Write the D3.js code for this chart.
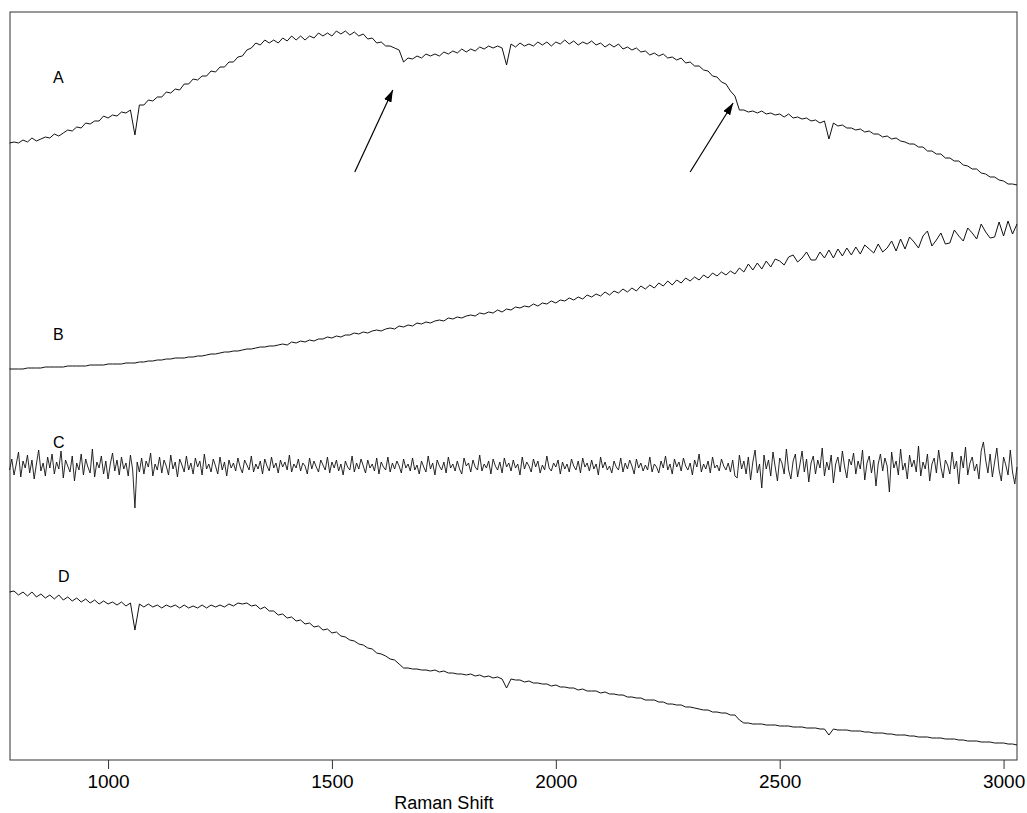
<!DOCTYPE html>
<head>
<style type="text/css">
    body {
      font-family: "Liberation Sans", Arial, sans-serif;
      margin: 0;
      background: #fff;
    }
</style>
</head>
<script src="https://d3js.org/d3.v7.min.js"></script>
<body>
    <svg width="1027" height="813"></svg>
    <script>
        // raman shift grid (cm-1), spectra sampled every 10 (C every 5)
        var shift10 = d3.range(780, 3031, 10),
            shift5 = d3.range(780, 3031, 5);

        var tickShifts = [1000, 1500, 2000, 2500, 3000];

        // intensities, arbitrary units
        var specA = [617,618,617,620,618,622,619,621,623,622,
            626,624,627,630,629,633,632,637,636,639,
            639,644,642,645,644,648,647,650,625,655,
            655,660,659,663,663,668,667,671,670,676,
            676,681,680,684,684,689,688,693,693,698,
            698,703,704,710,712,717,715,720,717,720,
            717,722,719,724,720,724,720,724,722,727,
            724,727,724,729,726,729,725,728,724,726,
            721,722,717,718,714,714,712,710,698,702,
            701,704,702,706,704,706,704,708,706,709,
            707,711,708,711,709,713,711,714,712,714,
            712,695,716,713,717,714,716,714,718,715,
            718,714,718,716,720,716,719,715,718,716,
            719,715,717,713,716,713,716,711,713,710,
            712,708,709,705,707,704,706,702,703,700,
            702,697,698,694,694,690,689,684,683,678,
            676,669,664,650,650,648,649,647,649,646,
            647,645,646,643,646,642,643,641,642,639,
            640,637,639,621,637,634,635,632,632,630,
            631,628,629,626,626,623,624,621,622,619,
            618,616,616,613,613,609,609,606,606,602,
            602,599,599,595,594,591,591,587,586,583,
            583,580,579,576,576,575];

        var specB = [391,391,391,391,392,392,392,392,393,393,
            393,393,393,394,394,394,394,394,395,395,
            395,395,396,396,396,396,397,397,397,398,
            398,399,399,400,400,401,401,402,402,402,
            403,403,404,404,405,406,406,407,408,408,
            409,409,410,411,411,412,413,413,414,414,
            415,416,415,418,417,419,418,420,419,421,
            421,423,422,424,423,425,425,427,426,428,
            427,429,430,429,431,432,431,434,433,435,
            434,437,436,438,437,439,440,439,442,441,
            443,442,444,445,444,447,446,448,447,450,
            448,451,450,453,452,454,453,456,454,457,
            456,459,457,460,459,462,460,463,461,465,
            463,466,464,468,465,469,467,471,468,472,
            469,474,471,475,472,477,474,479,475,480,
            477,482,479,483,480,485,482,487,484,488,
            485,489,486,492,488,496,490,497,491,499,
            493,501,499,495,503,505,498,502,508,500,
            500,508,502,510,502,511,504,512,505,513,
            506,515,511,507,516,508,512,519,509,521,
            511,523,518,512,524,529,514,520,527,516,
            517,530,524,519,532,527,521,536,528,522,
            523,538,524,539,526,536];

        var specC = [290,301,285,296,308,283,299,292,305,287,
            300,281,296,310,289,297,284,303,292,306,
            286,298,291,309,282,300,294,288,304,279,
            297,290,306,285,301,293,287,311,283,298,
            292,304,286,299,281,296,307,289,300,285,
            303,291,297,284,305,290,252,298,288,302,
            286,299,293,307,284,296,290,303,287,300,
            294,285,305,291,298,283,301,295,288,304,
            290,297,286,302,293,299,285,306,291,296,
            288,301,294,286,303,290,298,284,300,292,
            297,289,302,293,287,300,295,290,304,288,
            296,291,299,286,301,294,289,303,292,297,
            287,300,293,298,290,305,288,296,292,301,
            289,297,294,286,302,291,299,293,288,300,
            295,290,303,287,298,292,300,289,296,285,
            299,293,290,304,288,297,291,301,294,287,
            300,292,296,289,302,286,298,293,290,303,
            288,297,291,299,294,287,301,292,296,289,
            302,290,295,286,299,293,288,304,291,297,
            285,300,294,290,298,287,303,292,296,289,
            299,291,286,302,294,297,288,300,293,290,
            305,289,296,292,299,286,301,294,290,298,
            287,302,293,297,289,300,292,296,285,303,
            291,298,294,288,301,293,299,287,295,290,
            304,292,289,297,293,300,286,298,291,296,
            288,301,294,290,299,287,302,293,297,289,
            300,291,296,285,303,292,298,290,294,287,
            299,293,290,302,288,297,291,300,294,286,
            301,292,297,289,295,290,303,288,296,293,
            287,299,292,304,290,296,286,301,293,298,
            289,302,294,290,297,285,300,293,306,288,
            296,291,299,287,303,292,295,289,301,294,
            290,297,288,300,284,282,305,291,299,286,
            303,280,298,310,287,296,272,305,291,300,
            284,308,293,279,302,297,286,311,290,281,
            299,306,283,295,309,288,301,278,297,304,
            286,300,292,312,284,298,290,305,277,296,
            303,288,309,293,282,301,295,307,286,299,
            291,310,280,297,304,287,300,274,296,306,
            289,302,294,268,308,292,299,285,311,290,
            297,281,305,293,300,288,314,284,298,291,
            306,279,296,302,287,310,293,282,300,295,
            286,308,291,299,276,304,292,313,285,297,
            303,289,296,281,309,318,300,287,306,283,
            298,312,290,279,303,295,285,310,288,276,
            293];

        var specD = [168,169,165,168,164,168,163,166,162,165,
            161,165,160,163,159,162,158,161,157,160,
            156,159,156,158,155,158,154,157,130,156,
            153,156,153,155,152,155,153,155,152,155,
            152,154,152,155,152,155,153,155,153,156,
            154,157,156,157,154,155,151,153,149,149,
            145,146,142,143,139,140,136,137,133,134,
            130,131,127,128,124,123,120,119,116,115,
            112,111,107,106,104,101,100,96,92,92,
            91,91,90,90,89,90,88,89,87,87,
            86,86,85,86,84,85,83,84,82,83,
            81,72,81,80,80,78,79,77,77,76,
            76,74,75,73,73,72,72,70,71,69,
            69,69,67,68,66,66,65,65,63,63,
            62,62,60,60,60,58,58,56,56,55,
            55,53,53,52,51,50,50,48,48,47,
            47,45,45,40,37,37,36,36,36,35,
            35,35,34,34,34,33,33,33,32,32,
            32,31,31,25,31,30,30,30,29,29,
            29,28,28,27,27,27,26,26,25,25,
            25,24,24,23,23,23,22,22,22,21,
            21,21,20,20,19,19,19,18,18,18,
            17,17,17,16,16,15];

        var traceNames = ["A", "B", "C", "D"],
            labelShift = [877, 877, 877, 888],
            labelLevel = [677, 420, 312, 178];

        // arrows: [tail shift, tail level, tip shift, tip level]
        var arrows = [[1551, 588, 1636, 670], [2300, 588, 2396, 657]];

        var svg = d3.select("svg");

        var x = d3.scaleLinear().domain([781, 3030]).range([10, 1017]),
            y = d3.scaleLinear().domain([0, 748]).range([760, 12]);

        svg.append("defs").append("marker")
            .attr("id", "head")
            .attr("viewBox", "0 0 12 8")
            .attr("refX", 12)
            .attr("refY", 4)
            .attr("markerWidth", 12)
            .attr("markerHeight", 8)
            .attr("markerUnits", "userSpaceOnUse")
            .attr("orient", "auto")
            .append("path")
            .attr("d", "M0,0L12,4L0,8Z")
            .style("fill", "#000");

        // frame
        svg.append("rect")
            .attr("x", x(781))
            .attr("y", y(748))
            .attr("width", x(3030) - x(781))
            .attr("height", y(0) - y(748))
            .style("fill", "none")
            .style("stroke", "#333")
            .style("stroke-width", 1);

        var axis = svg.append("g")
            .attr("transform", "translate(0," + y(0) + ")")
            .call(d3.axisBottom(x).tickValues(tickShifts).tickSize(9).tickSizeOuter(0).tickPadding(6).tickFormat(d3.format("d")));
        axis.select(".domain").remove();
        axis.selectAll("line").style("stroke", "#333");
        axis.selectAll("text")
            .style("font-family", "'Liberation Sans', Arial, sans-serif")
            .style("font-size", "19px")
            .style("fill", "#000");

        svg.append("text")
            .attr("x", x(1750))
            .attr("y", 809)
            .attr("text-anchor", "middle")
            .style("font-size", "18px")
            .text("Raman Shift");

        var line10 = d3.line()
            .x(function(d, i) { return x(shift10[i]); })
            .y(function(d) { return y(d); });

        var line5 = d3.line()
            .x(function(d, i) { return x(shift5[i]); })
            .y(function(d) { return y(d); });

        var g = svg.append("g");

        [specA, specB, specD].forEach(function(s) {
            g.append("path")
                .datum(s)
                .attr("d", line10)
                .style("fill", "none")
                .style("stroke", "#111")
                .style("stroke-width", 1);
        });

        g.append("path")
            .datum(specC)
            .attr("d", line5)
            .style("fill", "none")
            .style("stroke", "#111")
            .style("stroke-width", 0.9);

        svg.selectAll(".lab")
            .data(traceNames)
            .enter().append("text")
            .attr("class", "lab")
            .attr("x", function(d, i) { return x(labelShift[i]); })
            .attr("y", function(d, i) { return y(labelLevel[i]); })
            .style("font-size", "16px")
            .text(function(d) { return d; });

        svg.selectAll(".arrow")
            .data(arrows)
            .enter().append("line")
            .attr("class", "arrow")
            .attr("x1", function(d) { return x(d[0]); })
            .attr("y1", function(d) { return y(d[1]); })
            .attr("x2", function(d) { return x(d[2]); })
            .attr("y2", function(d) { return y(d[3]); })
            .attr("marker-end", "url(#head)")
            .style("stroke", "#000")
            .style("stroke-width", 1.2);
    </script>
</body>
